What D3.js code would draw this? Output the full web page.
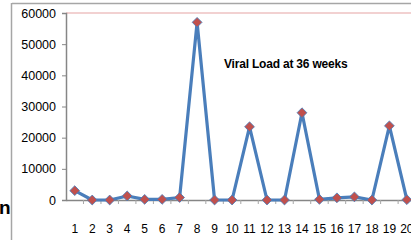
<!DOCTYPE html>
<html><head><meta charset="utf-8">
<script src="https://cdn.jsdelivr.net/npm/d3@7"></script>
<style>html,body{margin:0;padding:0;background:#fff;overflow:hidden}</style>
</head><body>
<svg id="c" width="411" height="240"></svg>
<script>
const categories = [1,2,3,4,5,6,7,8,9,10,11,12,13,14,15,16,17,18,19,20];
const viralLoad = [3000,0,0,1300,200,200,800,57000,0,0,23500,0,0,28000,200,700,1000,0,23800,100];
const yTicks = [0,10000,20000,30000,40000,50000,60000];
const title = "Viral Load at 36 weeks";

const svg = d3.select("#c");
const x = d3.scaleBand().domain(categories).range([66, 66 + 20*17.48]);
const y = d3.scaleLinear().domain([0,60000]).range([200,13]);

// outer frame
svg.append("line").attr("x1",12).attr("x2",411).attr("y1",3.5).attr("y2",3.5).attr("stroke","#a6a6a6").attr("stroke-width",1.5);
svg.append("line").attr("x1",11.5).attr("x2",11.5).attr("y1",3).attr("y2",240).attr("stroke","#a6a6a6").attr("stroke-width",1.5);

// clipped text at left
svg.append("text").attr("x",-1).attr("y",214).attr("font-family","Liberation Sans, Arial, sans-serif")
  .attr("font-weight","bold").attr("font-size",19).attr("fill","#000").text("n");

// top border line (red)
svg.append("line").attr("x1",66).attr("x2",411).attr("y1",y(60000)).attr("y2",y(60000)).attr("stroke","#e6a3a3").attr("stroke-width",1.2);

// y axis
const yAxis = d3.axisLeft(y).tickValues(yTicks).tickSize(4).tickPadding(6).tickFormat(d3.format("d"));
const ya = svg.append("g").attr("transform","translate(66,0)").call(yAxis);
ya.select(".domain").attr("stroke","#868686").attr("stroke-width",1.5);
ya.selectAll(".tick line").attr("stroke","#868686");
ya.selectAll(".tick text").attr("font-family","Liberation Sans, Arial, sans-serif").attr("font-size",12.5).attr("fill","#000");

// x axis
const xAxis = d3.axisBottom(x).tickSize(0).tickPadding(24);
const xa = svg.append("g").attr("transform",`translate(0,${y(0)})`).call(xAxis);
xa.select(".domain").attr("stroke","#868686").attr("stroke-width",1.5);
xa.selectAll(".tick text").attr("font-family","Liberation Sans, Arial, sans-serif").attr("font-size",12).attr("fill","#000");
// minor boundary ticks
svg.append("g").selectAll("line").data(categories.slice(1)).join("line")
  .attr("x1",d=>x(d)).attr("x2",d=>x(d)).attr("y1",y(0)).attr("y2",y(0)+4)
  .attr("stroke","#a6a6a6").attr("stroke-width",1);

// line
const line = d3.line().x((d,i)=>x(categories[i])+x.bandwidth()/2).y(d=>y(d));
svg.append("path").datum(viralLoad).attr("d",line).attr("fill","none")
  .attr("stroke","#4a7ebb").attr("stroke-width",3.2).attr("stroke-linejoin","round");

// markers
const sym = d3.symbol().type(d3.symbolSquare).size(48);
svg.append("g").selectAll("path").data(viralLoad).join("path")
  .attr("d",sym)
  .attr("transform",(d,i)=>`translate(${x(categories[i])+x.bandwidth()/2},${y(d)}) rotate(45)`)
  .attr("fill","#c0504d").attr("stroke","#4a7ebb").attr("stroke-width",0.8);

// title
svg.append("text").attr("x",224).attr("y",68).attr("font-family","Liberation Sans, Arial, sans-serif")
  .attr("font-weight","bold").attr("font-size",12).attr("letter-spacing",-0.2).attr("fill","#000").text(title);
</script>
</body></html>
